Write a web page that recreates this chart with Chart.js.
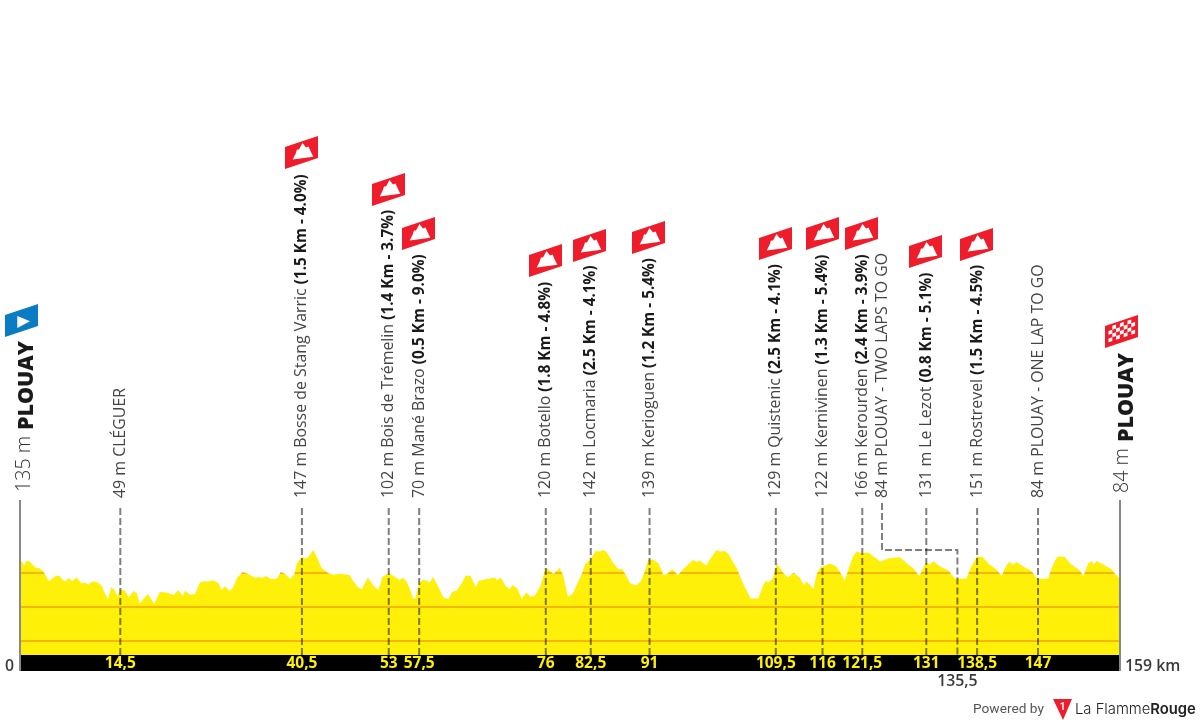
<!DOCTYPE html>
<html><head><meta charset="utf-8">
<style>html,body{margin:0;padding:0;background:#fff}canvas{display:block}</style>
<script src="https://cdn.jsdelivr.net/npm/chart.js@4/dist/chart.umd.min.js"></script>
</head><body><canvas id="c" width="1200" height="725"></canvas>
<script>
const profileKm=[0,.3,.6,.9,1.2,1.7,2.2,2.9,3.4,4.2,4.6,5.3,5.7,6.3,6.6,7.1,7.5,8.2,8.9,9.4,9.9,10.4,11.3,11.8,12.1,12.7,13.2,13.6,14.1,14.5,15.2,15.7,16.4,16.9,17.3,18.5,19.4,20.2,21.2,22.2,22.9,23.5,23.9,24.6,25.3,26,26.6,27.1,28,28.7,29.1,29.6,30.3,30.8,31.4,32.2,33,34,34.7,35.1,35.5,36.2,37.1,37.7,38.3,39.1,39.7,40,40.7,41.5,42.4,43,43.6,44.6,45.3,46.2,47.6,48.2,48.9,49.4,50.3,51,51.8,52.4,53.3,54,54.9,55.3,55.9,56.4,56.8,57.1,57.7,58.3,59.3,59.7,60.5,61.2,61.9,62.5,63.1,63.8,64.4,65.1,65.9,66.3,67.5,68.6,69,69.5,70.2,70.8,71.2,71.9,72.5,73.2,73.8,74.4,75.2,76,77.1,78,78.5,79.2,79.9,81.2,81.7,82.4,83.2,83.8,84.3,84.8,85.8,86.5,87.1,88.2,89.1,89.7,90.3,90.8,91.5,92.3,93,93.5,94.3,95.1,95.9,97.3,97.8,98.3,99.2,99.7,100.7,101.2,101.9,102.4,103.6,104.5,105.6,106.7,107.4,107.8,108.2,108.8,109.4,110.3,111,111.8,112.7,113.3,113.7,114.2,114.7,115.1,115.7,117.1,118,118.8,119.2,119.8,120.4,120.9,121.7,122.6,123.8,124.3,125.5,127.2,128.2,129.1,130,130.7,131,131.6,132,133,134.2,135.1,136.8,137.4,138.3,139.1,140,141.2,141.9,142.5,143,143.6,144,145,146.2,147,148.6,149.1,149.9,151,151.8,153.2,153.7,154.4,154.9,155.2,155.6,156.3,157.8,158.2,159];
const profileElevation=[135,133,122,135,136,128,116,113,104,75,83,93,91,77,76,85,76,87,70,71,66,75,72,62,48,23,58,52,30,52,48,28,47,40,11,38,9,44,43,35,50,32,48,36,38,72,76,75,78,70,50,61,47,58,87,103,97,86,88,85,91,83,83,103,98,82,99,128,146,143,168,143,114,99,95,98,94,75,57,52,87,65,49,89,99,91,79,87,75,50,26,23,70,81,73,89,58,28,23,45,48,68,91,93,58,77,82,87,79,87,62,52,65,55,24,43,30,33,60,116,97,115,94,30,40,97,126,138,165,163,168,162,128,111,111,70,63,75,104,138,140,128,94,97,111,94,112,138,133,136,121,140,168,163,165,156,114,70,25,25,62,77,72,84,128,101,87,101,87,65,75,65,52,94,116,128,119,94,77,114,148,163,158,160,143,133,143,146,128,114,91,121,131,124,135,119,107,84,83,114,148,148,128,109,91,119,133,124,133,119,106,84,83,114,148,148,128,107,91,128,135,124,135,128,111,99,84];

const tickKm=[14.5,40.75,53.3,57.7,76,82.5,91,109.25,116,121.75,131,138.35,147.15];
const tickText=['14,5','40,5','53','57,5','76','82,5','91','109,5','116','121,5','131','138,5','147'];
const extraTickKm=135.5, extraTickText='135,5';
const totalKm=159, startTickText='0', endTickText='159 km';
const contourLevels=[100,0,-100];

const passKm=[14.5,40.75,53.3,57.7,76,82.5,91,109.25,116,121.75,124.6,131,138.35,147.15];
const passName=['49 m CLÉGUER','147 m Bosse de Stang Varric ','102 m Bois de Trémelin ','70 m Mané Brazo ','120 m Botello ','142 m Locmaria ','139 m Kerioguen ','129 m Quistenic ','122 m Kernivinen ','166 m Kerourden ','84 m PLOUAY - TWO LAPS TO GO','131 m Le Lezot ','151 m Rostrevel ','84 m PLOUAY - ONE LAP TO GO'];
const passClimb=['','(1.5 Km - 4.0%)','(1.4 Km - 3.7%)','(0.5 Km - 9.0%)','(1.8 Km - 4.8%)','(2.5 Km - 4.1%)','(1.2 Km - 5.4%)','(2.5 Km - 4.1%)','(1.3 Km - 5.4%)','(2.4 Km - 3.9%)','','(0.8 Km - 5.1%)','(1.5 Km - 4.5%)',''];
const startName='PLOUAY', startAlt='135 m', endName='PLOUAY', endAlt='84 m';

// page layout of the flags, same order as passKm (null = no flag)
const flagLeftX=[null,285,372,402,529,573,632,759,806,845,null,909,960,null];
const flagBottomY=[null,169,206,250,277,262,254,260,250,250,null,268,261,null];

const RED='#ef1c2b',BLUE='#0a7cc4',INK='#3a3a3a';
function flagPath(ctx,x,yb){ctx.beginPath();ctx.moveTo(x,yb);ctx.lineTo(x,yb-22);ctx.lineTo(x+33,yb-33);ctx.lineTo(x+33,yb-11);ctx.closePath();}
function poly(ctx,x,yb,pts){ctx.beginPath();pts.forEach((p,i)=>i?ctx.lineTo(x+p[0],yb+p[1]):ctx.moveTo(x+p[0],yb+p[1]));ctx.closePath();ctx.fill();}
function climbFlag(ctx,x,yb){ctx.fillStyle=RED;flagPath(ctx,x,yb);ctx.fill();ctx.fillStyle='#fff';
 poly(ctx,x,yb,[[7.7,-9.5],[10.5,-15],[12,-19.5],[14,-19.5],[17.5,-26],[21,-21.5],[23.5,-22.5],[25.5,-18],[28.3,-12.3]]);}
function startFlag(ctx,x,yb){ctx.fillStyle=BLUE;flagPath(ctx,x,yb);ctx.fill();ctx.fillStyle='#fff';poly(ctx,x,yb,[[12.3,-21],[12.3,-9],[25,-15.7]]);}
function finishFlag(ctx,x,yb){ctx.fillStyle=RED;flagPath(ctx,x,yb);ctx.fill();ctx.fillStyle='#fff';
 for(let c=0;c<7;c++)for(let r=0;r<4;r++){if((c+r)%2)continue;const u=3.5+c*3.8,v=-4.5-r*3.8;
  poly(ctx,x,yb,[[u,v-u/3],[u+3.8,v-(u+3.8)/3],[u+3.8,v-3.8-(u+3.8)/3],[u,v-3.8-u/3]]);}}
function vtext(ctx,x,y,runs){ctx.save();ctx.translate(x,y);ctx.rotate(-Math.PI/2);ctx.textAlign='left';ctx.textBaseline='alphabetic';let d=0;
 runs.forEach(r=>{ctx.font=r.font;ctx.fillStyle=r.color;ctx.fillText(r.text,d,0);d+=ctx.measureText(r.text).width;});ctx.restore();}

const decorations={id:'decorations',afterDatasetsDraw(chart){
 const ctx=chart.ctx,xs=chart.scales.x,ys=chart.scales.y;const X=v=>xs.getPixelForValue(v),Y=v=>ys.getPixelForValue(v);
 const bottom=chart.chartArea.bottom;
 ctx.save();
 ctx.globalCompositeOperation='source-atop';ctx.strokeStyle='#f5b70a';ctx.lineWidth=2;
 contourLevels.forEach(l=>{ctx.beginPath();ctx.moveTo(X(0),Y(l));ctx.lineTo(X(totalKm),Y(l));ctx.stroke();});
 ctx.globalCompositeOperation='source-over';
 ctx.strokeStyle='#888';ctx.lineWidth=2;
 [0,totalKm].forEach(k=>{ctx.beginPath();ctx.moveTo(X(k),500);ctx.lineTo(X(k),671);ctx.stroke();});
 ctx.strokeStyle='rgba(0,0,0,.5)';ctx.lineWidth=2;ctx.setLineDash([7,3]);
 passKm.forEach((k,i)=>{ctx.beginPath();
  if(i===10){ctx.moveTo(X(k),503);ctx.lineTo(X(k),550);ctx.lineTo(X(extraTickKm),550);ctx.lineTo(X(extraTickKm),bottom);}
  else{ctx.moveTo(X(k),508);ctx.lineTo(X(k),bottom);}
  ctx.stroke();});
 ctx.setLineDash([]);
 const reg='15.9px "Open Sans"',bold='bold 15.3px "Open Sans"';
 passKm.forEach((k,i)=>{vtext(ctx,X(k)+4.5,498,[{text:passName[i],font:reg,color:'#444'},{text:passClimb[i],font:bold,color:'#1a1a1a'}]);
  if(flagBottomY[i]!==null)climbFlag(ctx,flagLeftX[i],flagBottomY[i]);});
 vtext(ctx,29.5,492,[{text:startAlt,font:'300 19.7px "Open Sans"',color:'#333'}]);
 vtext(ctx,32.5,430,[{text:startName,font:'800 21.4px "Open Sans"',color:'#1a1a1a'}]);
 vtext(ctx,1128,493,[{text:endAlt,font:'300 19.7px "Open Sans"',color:'#333'}]);
 vtext(ctx,1132.5,442,[{text:endName,font:'800 21.4px "Open Sans"',color:'#1a1a1a'}]);
 startFlag(ctx,5,337);finishFlag(ctx,1105,348);
 ctx.textBaseline='alphabetic';
 ctx.font='600 15.8px "Open Sans"';ctx.fillStyle=INK;
 ctx.textAlign='center';ctx.fillText(startTickText,9.5,670.5);ctx.fillText(extraTickText,X(extraTickKm),686);
 ctx.textAlign='left';ctx.fillText(endTickText,1125,670.5);
 ctx.font='13.7px Roboto';ctx.fillStyle='#555';ctx.fillText('Powered by',973,713);
 ctx.fillStyle=RED;ctx.beginPath();ctx.moveTo(1053,699);ctx.lineTo(1072,699);ctx.lineTo(1063,720);ctx.closePath();ctx.fill();
 ctx.fillStyle='#fff';ctx.font='bold 10px Roboto';ctx.textAlign='center';ctx.fillText('1',1062.7,710);
 ctx.textAlign='left';ctx.fillStyle='#222';ctx.font='300 14.8px Inter';ctx.fillText('La Flamme',1075,714);
 const w=ctx.measureText('La Flamme').width;ctx.font='600 14.8px Inter';ctx.fillText('Rouge',1075+w,714);
 ctx.restore();
}};

new Chart(document.getElementById('c'),{
 type:'line',
 data:{datasets:[{data:profileKm.map((k,i)=>({x:k,y:profileElevation[i]})),fill:'start',backgroundColor:'#fff00a',borderWidth:0,pointRadius:0,tension:0}]},
 options:{responsive:false,animation:false,devicePixelRatio:1,
  layout:{padding:{left:20,right:80,top:0,bottom:54}},
  plugins:{legend:{display:false},tooltip:{enabled:false},title:{display:false}},
  scales:{
   x:{type:'linear',min:0,max:totalKm,backgroundColor:'#000',border:{display:false},grid:{display:false,drawTicks:false},
    afterBuildTicks(s){s.ticks=tickKm.map(v=>({value:v}));},
    afterFit(s){s.height=16;},
    ticks:{autoSkip:false,maxRotation:0,minRotation:0,padding:-1,color:'#fff00a',font:{family:'"Open Sans"',weight:'bold',size:15.5},
     callback(v){return tickText[tickKm.indexOf(v)];}}},
   y:{type:'linear',display:false,min:-141.18,max:1785.29}
  }},
 plugins:[decorations]
});
</script></body></html>
